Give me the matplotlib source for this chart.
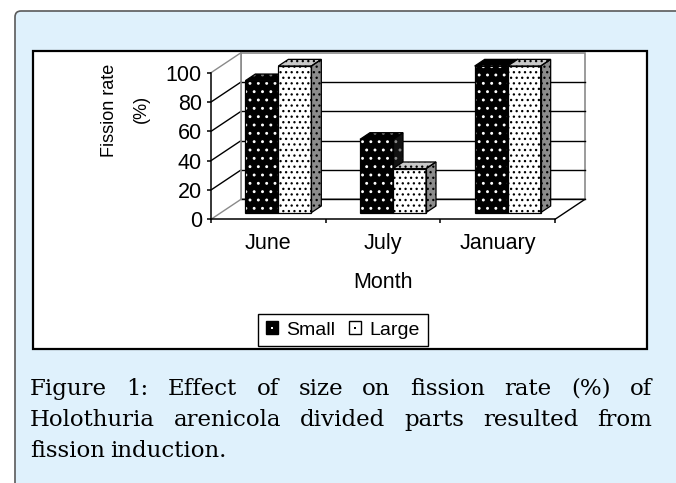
import matplotlib
matplotlib.use('Agg')
import matplotlib.pyplot as plt
from matplotlib.patches import Polygon, FancyBboxPatch, Rectangle, Patch
from matplotlib.lines import Line2D
from matplotlib.legend_handler import HandlerTuple
from matplotlib.transforms import IdentityTransform

# data
months = ['June', 'July', 'January']
small = [90, 50, 100]
large = [100, 30, 100]
series_names = ['Small', 'Large']
yticks = [0, 20, 40, 60, 80, 100]
caption_lines = [
    'Figure 1: Effect of size on fission rate (%) of',
    'Holothuria arenicola divided parts resulted from',
    'fission induction.',
]

W, H = 676, 483
BLUE = '#dff1fc'

plt.rcParams['font.family'] = ['Liberation Sans', 'DejaVu Sans']
plt.rcParams['hatch.linewidth'] = 0.9

fig = plt.figure(figsize=(W / 100, H / 100), dpi=100)
fig.patch.set_facecolor('white')
px = IdentityTransform()

# light blue caption panel and white chart frame
fig.add_artist(FancyBboxPatch((15, -40), 720, H - 11 + 40, boxstyle='round,pad=0,rounding_size=6',
                              transform=px, facecolor=BLUE, edgecolor='#5a5a5a', lw=1.2, zorder=-3))
fig.add_artist(Rectangle((33, H - 349), 614, 298, transform=px, facecolor='white',
                         edgecolor='black', lw=1.6, zorder=-2))

# front plane of the pseudo-3d plot
ax = fig.add_axes([211 / W, 1 - 219.3 / H, 344 / W, 146.6 / H])
ax.set_xlim(0, len(months))
ax.set_ylim(0, 100)
ax.patch.set_visible(False)
ncat = len(months)

# depth of the box (30px right, 20px up) in data units
DX = 30 * ncat / 344
DY = 20 * 100 / 146.6
ymax = yticks[-1]


def poly(pts, **kw):
    p = Polygon(pts, closed=True, clip_on=False, **kw)
    ax.add_patch(p)
    return p


# walls and floor
poly([(DX, DY), (ncat + DX, DY), (ncat + DX, ymax + DY), (DX, ymax + DY)],
     facecolor='white', edgecolor='#8a8a8a', lw=1.2, zorder=1)
poly([(0, 0), (DX, DY), (DX, ymax + DY), (0, ymax)], facecolor='white', edgecolor='none', zorder=1)
poly([(0, 0), (ncat, 0), (ncat + DX, DY), (DX, DY)], facecolor='white', edgecolor='none', zorder=1)
for v in yticks[:-1]:
    ax.plot([DX, ncat + DX], [v + DY, v + DY], color='black', lw=1, clip_on=False, zorder=1.5)
for v in yticks:
    c = '#8a8a8a' if v in (0, ymax) else 'black'
    ax.plot([0, DX], [v, v + DY], color=c, lw=1, clip_on=False, zorder=1.5)
ax.plot([DX, DX], [DY, ymax + DY], color='#8a8a8a', lw=1.2, clip_on=False, zorder=1.5)
ax.plot([ncat, ncat + DX], [0, DY], color='black', lw=1, clip_on=False, zorder=1.5)

# bar faces: (face colour, dot colour, hatch)
styles = [
    {'front': ('black', 'white', '..'), 'top': ('black', '#777777', '..'), 'side': ('#111111', '#888888', '..')},
    {'front': ('white', 'black', '...'), 'top': ('#c8c8c8', 'black', '...'), 'side': ('#8c8c8c', 'black', '...')},
]
w = 33 * ncat / 344
f0, f1 = DX / 3, DY / 3
b0, b1 = 2 * DX / 3, 2 * DY / 3


def face(pts, spec, z):
    fc, hc, hatch = spec
    poly(pts, facecolor=fc, edgecolor=hc, hatch=hatch, lw=0, zorder=z)
    poly(pts, facecolor='none', edgecolor='black', lw=0.9, zorder=z + 0.01)


z = 3
for i in range(ncat):
    for j, v in enumerate((small[i], large[i])):
        x0 = i + 0.5 + (j - 1) * w
        st = styles[j]
        face([(x0 + f0, f1), (x0 + w + f0, f1), (x0 + w + f0, v + f1), (x0 + f0, v + f1)], st['front'], z)
        face([(x0 + f0, v + f1), (x0 + w + f0, v + f1), (x0 + w + b0, v + b1), (x0 + b0, v + b1)], st['top'], z)
        face([(x0 + w + f0, f1), (x0 + w + b0, b1), (x0 + w + b0, v + b1), (x0 + w + f0, v + f1)], st['side'], z)
        z += 0.1

# axes, ticks
for s in ('top', 'right'):
    ax.spines[s].set_visible(False)
for s in ('left', 'bottom'):
    ax.spines[s].set_linewidth(1.1)
    ax.spines[s].set_zorder(2.5)
ax.set_xticks(range(ncat + 1))
ax.set_xticklabels([])
ax.set_xticks([i + 0.5 for i in range(ncat)], minor=True)
ax.set_xticklabels(months, minor=True)
ax.tick_params(axis='x', which='major', length=3, width=1.1, direction='out')
ax.tick_params(axis='x', which='minor', length=0, pad=10, labelsize=15.5)
ax.set_yticks(yticks)
ax.tick_params(axis='y', length=3, width=1.1, pad=3.5, labelsize=15.5)
ax.set_xlabel('Month', fontsize=15.5, labelpad=12.5)

fig.text(110 / W, 1 - 110 / H, 'Fission rate', rotation=90, ha='center', va='center', fontsize=13)
fig.text(141 / W, 1 - 109 / H, '(%)', rotation=90, ha='center', va='center', fontsize=13)

# legend
h_small = (Patch(facecolor='black', edgecolor='black'),
           Line2D([], [], marker='s', ms=1.6, mew=0, color='white', ls=''))
h_large = (Patch(facecolor='white', edgecolor='black'),
           Line2D([], [], marker='s', ms=1.6, mew=0, color='black', ls=''))
leg = fig.legend([h_small, h_large], series_names, loc='center',
                 bbox_to_anchor=(343 / W, 1 - 330 / H), ncol=2, fontsize=14,
                 handler_map={tuple: HandlerTuple(ndivide=1, pad=0)},
                 handlelength=0.6, handleheight=0.6, handletextpad=0.45, columnspacing=0.7,
                 borderpad=0.4, frameon=True, fancybox=False, framealpha=1, edgecolor='black')
leg.get_frame().set_linewidth(1.0)

# justified caption
renderer = fig.canvas.get_renderer()
left, right = 30, 652
baselines = [395, 426, 457]
for k, line in enumerate(caption_lines):
    words = line.split()
    texts = [fig.text(0, 0, wd, transform=px, fontsize=16.5, va='baseline', ha='left',
                      family='DejaVu Serif', color='black') for wd in words]
    widths = [t.get_window_extent(renderer).width for t in texts]
    if k < len(caption_lines) - 1:
        gap = (right - left - sum(widths)) / (len(words) - 1)
    else:
        gap = 5
    x = left
    for t, wd in zip(texts, widths):
        t.set_position((x, H - baselines[k]))
        x += wd + gap

fig.savefig('out.png', dpi=100, facecolor=fig.get_facecolor())
